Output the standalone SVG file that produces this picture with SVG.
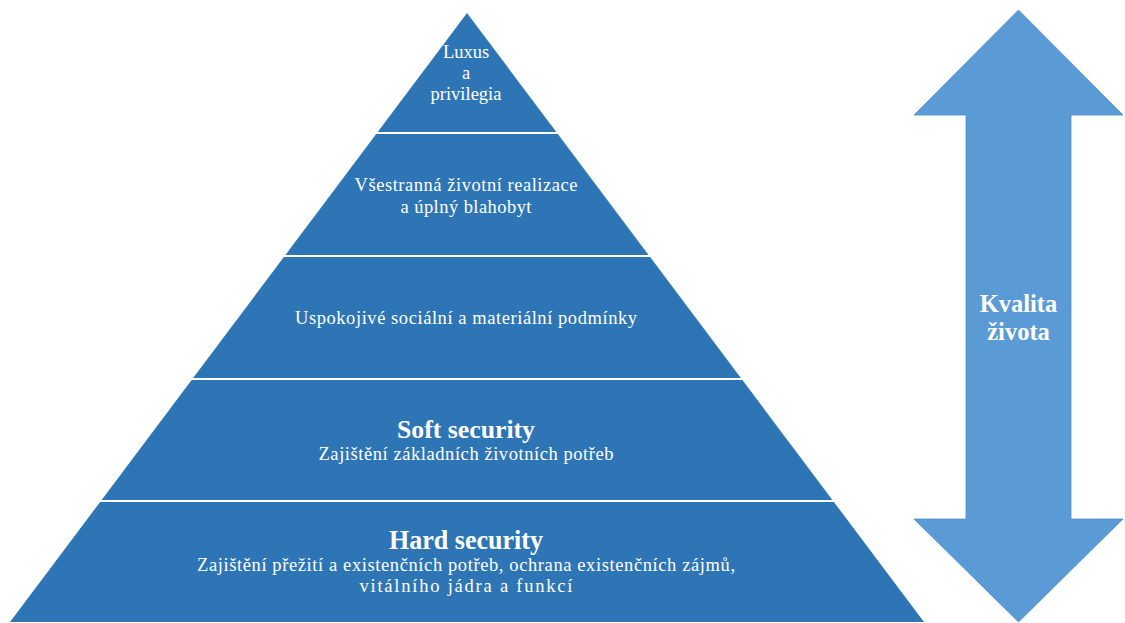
<svg xmlns="http://www.w3.org/2000/svg" width="1125" height="623" viewBox="0 0 1125 623">
<style>
.band{fill:#2E75B6;}
.t{font-family:"Liberation Serif","Times New Roman",serif;fill:#FFFFFF;text-anchor:middle;font-size:18.5px;}
.b{font-family:"Liberation Serif","Times New Roman",serif;fill:#FFFFFF;text-anchor:middle;font-weight:bold;}
</style>
<rect width="1125" height="623" fill="#FFFFFF"/>
<g id="level-luxus">
<polygon class="band" points="467,13 556.3,132 377.7,132"/>
<text class="t" x="466" y="58">Luxus</text>
<text class="t" x="466" y="79">a</text>
<text class="t" x="466" y="100">privilegia</text>
</g>
<g id="level-realizace">
<polygon class="band" points="376.2,134 557.8,134 648.6,255 285.4,255"/>
<text class="t" x="466" y="191" textLength="223" lengthAdjust="spacing">Všestranná životní realizace</text>
<text class="t" x="466" y="213" textLength="131" lengthAdjust="spacing">a úplný blahobyt</text>
</g>
<g id="level-podminky">
<polygon class="band" points="283.9,257 650.1,257 740.9,378 193.1,378"/>
<text class="t" x="466" y="324" textLength="342" lengthAdjust="spacing">Uspokojivé sociální a materiální podmínky</text>
</g>
<g id="level-soft">
<polygon class="band" points="191.6,380 742.4,380 832.4,500 101.6,500"/>
<text class="b" x="466" y="438" font-size="25" textLength="138" lengthAdjust="spacingAndGlyphs">Soft security</text>
<text class="t" x="466" y="460" textLength="295" lengthAdjust="spacing">Zajištění základních životních potřeb</text>
</g>
<g id="level-hard">
<polygon class="band" points="100.1,502 833.9,502 924,622 10,622"/>
<text class="b" x="466" y="549" font-size="27" textLength="154" lengthAdjust="spacingAndGlyphs">Hard security</text>
<text class="t" x="466" y="571" textLength="538" lengthAdjust="spacing">Zajištění přežití a existenčních potřeb, ochrana existenčních zájmů,</text>
<text class="t" x="466" y="592" textLength="213" lengthAdjust="spacing">vitálního jádra a funkcí</text>
</g>
<g id="arrow-kvalita">
<polygon points="1018.5,10 1123,115 1071,115 1071,519 1123,519 1018.5,622 914,519 966,519 966,115 914,115" fill="#5B9BD5" stroke="#4F8FC9" stroke-width="0.8"/>
<text class="b" x="1018.5" y="312" font-size="24.5">Kvalita</text>
<text class="b" x="1018.5" y="340" font-size="24.5">života</text>
</g>
<g id="connectors"></g>
</svg>
